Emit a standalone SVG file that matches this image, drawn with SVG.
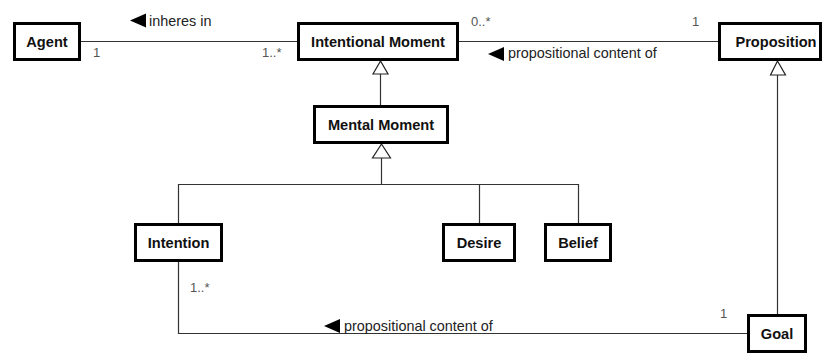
<svg xmlns="http://www.w3.org/2000/svg" width="825" height="354" viewBox="0 0 825 354">
  <style>
    .cls rect { fill: #ffffff; stroke: #000000; stroke-width: 3; }
    .cls text { font-family: "Liberation Sans", Arial, sans-serif; font-size: 14.6px; font-weight: bold; fill: #111111; text-anchor: middle; }
    .edge { fill: none; stroke: #333333; stroke-width: 1.2; }
    .gen { fill: #ffffff; stroke: #222222; stroke-width: 1.2; }
    .dir { fill: #000000; }
    .lbl { font-family: "Liberation Sans", Arial, sans-serif; font-size: 14.4px; fill: #222222; }
    .mult { font-family: "Liberation Sans", Arial, sans-serif; font-size: 13px; fill: #555555; }
  </style>

  <!-- associations and generalizations -->
  <g id="connectors">
    <!-- Agent - Intentional Moment -->
    <line class="edge" x1="81" y1="41.5" x2="297" y2="41.5"/>
    <polygon class="dir" points="130,20.5 146,13.5 146,27.5"/>
    <text class="lbl" x="149" y="26">inheres in</text>
    <text class="mult" x="93" y="57">1</text>
    <text class="mult" x="262" y="57">1..*</text>

    <!-- Intentional Moment - Proposition -->
    <line class="edge" x1="459" y1="41.5" x2="718" y2="41.5"/>
    <polygon class="dir" points="488,54 504,47 504,61"/>
    <text class="lbl" x="508" y="58">propositional content of</text>
    <text class="mult" x="471" y="26">0..*</text>
    <text class="mult" x="692" y="26">1</text>

    <!-- Mental Moment is an Intentional Moment -->
    <line class="edge" x1="380.5" y1="74" x2="380.5" y2="105"/>
    <polygon class="gen" points="380.5,61 373,74 388,74"/>

    <!-- Intention, Desire, Belief are Mental Moments -->
    <polyline class="edge" points="178.5,223 178.5,184.5 578.5,184.5 578.5,223"/>
    <line class="edge" x1="479.5" y1="184.5" x2="479.5" y2="223"/>
    <line class="edge" x1="381.5" y1="158" x2="381.5" y2="184.5"/>
    <polygon class="gen" points="381.5,144 372.5,158 390.5,158"/>

    <!-- Goal is a Proposition -->
    <line class="edge" x1="777.5" y1="75" x2="777.5" y2="314"/>
    <polygon class="gen" points="777.5,61 770.5,75 785.5,75"/>

    <!-- Intention - Goal -->
    <polyline class="edge" points="178.5,262 178.5,333.5 747,333.5"/>
    <polygon class="dir" points="324,326 340,319 340,333"/>
    <text class="lbl" x="344" y="331">propositional content of</text>
    <text class="mult" x="190" y="292">1..*</text>
    <text class="mult" x="720" y="318">1</text>
  </g>

  <g id="agent" class="cls">
    <rect x="14.5" y="23.5" width="65" height="36"/>
    <text x="47" y="46.5">Agent</text>
  </g>

  <g id="intentional-moment" class="cls">
    <rect x="298.5" y="23.5" width="159" height="36"/>
    <text x="378" y="46.5">Intentional Moment</text>
  </g>

  <g id="proposition" class="cls">
    <rect x="719.5" y="23.5" width="101" height="36"/>
    <text x="776" y="46.5">Proposition</text>
  </g>

  <g id="mental-moment" class="cls">
    <rect x="314.5" y="106.5" width="133" height="36"/>
    <text x="381" y="129.5">Mental Moment</text>
  </g>

  <g id="intention" class="cls">
    <rect x="135.5" y="224.5" width="86" height="36"/>
    <text x="178.5" y="247.5">Intention</text>
  </g>

  <g id="desire" class="cls">
    <rect x="443.5" y="224.5" width="71" height="36"/>
    <text x="479" y="247.5">Desire</text>
  </g>

  <g id="belief" class="cls">
    <rect x="545.5" y="224.5" width="65" height="36"/>
    <text x="578" y="247.5">Belief</text>
  </g>

  <g id="goal" class="cls">
    <rect x="748.5" y="315.5" width="57" height="36"/>
    <text x="777" y="338.5">Goal</text>
  </g>
</svg>
